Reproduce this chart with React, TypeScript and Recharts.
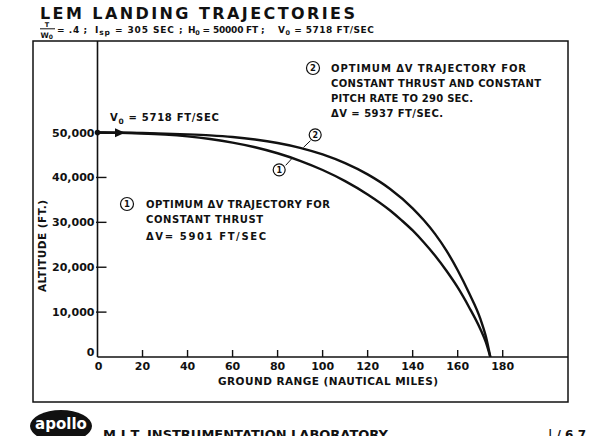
import React from 'react';
import { LineChart, Line, XAxis, YAxis, ReferenceDot, ReferenceLine } from 'recharts';

// Ground range (nautical miles) and altitude (ft) for trajectory 1 (constant thrust)
const rangeCurve1 = [0, 10, 20, 30, 40, 50, 60, 70, 80, 90, 100, 110, 120, 130, 135, 140, 145, 150, 155, 160, 165, 170, 172.5, 174.5];
const altCurve1 = [50000, 49950, 49800, 49540, 49140, 48560, 47770, 46730, 45390, 43715, 41665, 39190, 36215, 32640, 30500, 28190, 25500, 22540, 19200, 15490, 11150, 6300, 3300, 0];

// Trajectory 2 (constant thrust and constant pitch rate to 290 sec)
const rangeCurve2 = [0, 10, 20, 30, 40, 50, 60, 70, 80, 90, 100, 110, 120, 130, 140, 145, 150, 155, 160, 165, 170, 172.5, 174.5];
const altCurve2 = [50000, 49975, 49900, 49775, 49600, 49365, 49005, 48455, 47680, 46605, 45130, 43180, 40680, 37430, 33130, 30450, 27380, 23700, 19330, 14300, 8600, 4600, 0];

const xTicks = [0, 20, 40, 60, 80, 100, 120, 140, 160, 180];
const yTicks = [0, 10000, 20000, 30000, 40000, 50000];
const yTickLabels = ['0', '10,000', '20,000', '30,000', '40,000', '50,000'];

const curve1 = rangeCurve1.map((x, i) => ({ x, alt: altCurve1[i] }));
const curve2 = rangeCurve2.map((x, i) => ({ x, alt: altCurve2[i] }));

const FONT = '"DejaVu Sans", sans-serif';
const INK = '#111';

const YTick = (props: any) => {
  const { x, y, payload } = props;
  const idx = yTicks.indexOf(payload.value);
  const label = idx >= 0 ? yTickLabels[idx] : String(payload.value);
  if (payload.value === 0) {
    return (
      <text x={x - 3} y={y - 1} textAnchor="end" fontFamily={FONT} fontSize={11} fontWeight="bold" fill={INK}>
        {label}
      </text>
    );
  }
  return (
    <g>
      <line x1={x - 1.5} x2={x + 9} y1={y} y2={y} stroke={INK} strokeWidth={1.4} />
      <text x={x - 3} y={y + 4} textAnchor="end" fontFamily={FONT} fontSize={11} fontWeight="bold" fill={INK}>
        {label}
      </text>
    </g>
  );
};

const XTick = (props: any) => {
  const { x, y, payload } = props;
  return (
    <g>
      {payload.value !== 0 && <line x1={x} x2={x} y1={y} y2={y - 7} stroke={INK} strokeWidth={1.4} />}
      <text x={payload.value === 0 ? x + 1 : x} y={y + 13} textAnchor="middle" fontFamily={FONT} fontSize={11} fontWeight="bold" fill={INK}>
        {payload.value}
      </text>
    </g>
  );
};

const Arrow = (props: any) => {
  const { cx, cy } = props;
  if (cx == null || cy == null) return null;
  return <polygon points={`${cx + 5},${cy} ${cx - 5},${cy - 4.5} ${cx - 5},${cy + 4.5}`} fill={INK} />;
};

const StartDot = (props: any) => {
  const { cx, cy } = props;
  if (cx == null || cy == null) return null;
  return <circle cx={cx} cy={cy} r={2.8} fill={INK} />;
};

const circled = (n: string) => (props: any) => {
  const { cx, cy } = props;
  if (cx == null || cy == null) return null;
  return (
    <g>
      <circle cx={cx} cy={cy} r={6} fill="#fff" stroke={INK} strokeWidth={1.2} />
      <text x={cx} y={cy + 3} textAnchor="middle" fontFamily={FONT} fontSize={8} fontWeight="bold" fill={INK}>
        {n}
      </text>
    </g>
  );
};

const txt = { fontFamily: FONT, fontWeight: 'bold' as const, fill: INK };

export default function App() {
  return (
    <div style={{ position: 'absolute', left: 0, top: 0, width: 600, height: 436, background: '#fff', overflow: 'hidden' }}>
      <div style={{ position: 'absolute', left: 0, top: 0 }}>
        <LineChart width={600} height={436} margin={{ top: 41, right: 32, bottom: 49, left: 37.5 }}>
          <XAxis
            type="number"
            dataKey="x"
            domain={[0, 209]}
            ticks={xTicks}
            allowDataOverflow
            height={30}
            tickLine={false}
            tickSize={0}
            tickMargin={0}
            tick={<XTick />}
            axisLine={{ stroke: INK, strokeWidth: 1.6 }}
            interval={0}
          />
          <YAxis
            type="number"
            domain={[0, 70400]}
            ticks={yTicks}
            allowDataOverflow
            width={60}
            tickLine={false}
            tickSize={0}
            tickMargin={0}
            tick={<YTick />}
            axisLine={{ stroke: INK, strokeWidth: 1.6 }}
            interval={0}
          />
          <Line data={curve1} dataKey="alt" type="monotone" stroke={INK} strokeWidth={2.4} dot={false} isAnimationActive={false} />
          <Line data={curve2} dataKey="alt" type="monotone" stroke={INK} strokeWidth={2.4} dot={false} isAnimationActive={false} />
          <ReferenceDot x={0} y={50000} r={3} shape={<StartDot />} ifOverflow="visible" />
          <ReferenceDot x={10} y={49970} r={5} shape={<Arrow />} ifOverflow="visible" />
          <ReferenceLine segment={[{ x: 94.6, y: 48200 }, { x: 91.5, y: 46700 }]} stroke={INK} strokeWidth={1} ifOverflow="visible" />
          <ReferenceLine segment={[{ x: 83.6, y: 42700 }, { x: 86.5, y: 44300 }]} stroke={INK} strokeWidth={1} ifOverflow="visible" />
          <ReferenceDot x={96.7} y={49490} r={6} shape={circled('2')} ifOverflow="visible" />
          <ReferenceDot x={80.7} y={41690} r={6} shape={circled('1')} ifOverflow="visible" />
        </LineChart>
      </div>
      <svg width={600} height={436} style={{ position: 'absolute', left: 0, top: 0, pointerEvents: 'none' }}>
        {/* outer frame */}
        <rect x={33} y={41} width={535} height={361} fill="none" stroke={INK} strokeWidth={1.5} />

        {/* title */}
        <text x={40} y={19} fontSize={16} textLength={315} lengthAdjust="spacing" {...txt}>
          LEM LANDING TRAJECTORIES
        </text>

        {/* subtitle */}
        <text x={47} y={27} fontSize={6.5} textAnchor="middle" {...txt}>T</text>
        <line x1={40} x2={55} y1={28.8} y2={28.8} stroke={INK} strokeWidth={1} />
        <text x={40.5} y={37.5} fontSize={7.5} {...txt}>W<tspan fontSize={6} dy={1.5}>0</tspan></text>
        <text x={57} y={33} fontSize={9} letterSpacing={0.6} {...txt}>= .4 ;</text>
        <text x={95} y={33} fontSize={9} letterSpacing={0.9} {...txt}>
          I<tspan fontSize={7.5} dy={2}>sp</tspan><tspan dy={-2}> = 305 SEC ;</tspan>
        </text>
        <text x={188} y={33} fontSize={9} letterSpacing={-0.2} {...txt}>
          H<tspan fontSize={6.5} dy={2}>0</tspan><tspan dy={-2}> = 50000 FT ;</tspan>
        </text>
        <text x={278} y={33} fontSize={9} letterSpacing={0.5} {...txt}>
          V<tspan fontSize={6.5} dy={2}>0</tspan><tspan dy={-2}> = 5718 FT/SEC</tspan>
        </text>

        {/* V0 label near start */}
        <text x={110} y={121} fontSize={10} letterSpacing={0.7} {...txt}>
          V<tspan fontSize={7.5} dy={2.5}>0</tspan><tspan dy={-2.5}> = 5718 FT/SEC</tspan>
        </text>

        {/* annotation 2 */}
        <circle cx={313} cy={68} r={6.5} fill="none" stroke={INK} strokeWidth={1.2} />
        <text x={313} y={71} fontSize={8.5} textAnchor="middle" {...txt}>2</text>
        <text x={331} y={72} fontSize={10} textLength={195} lengthAdjust="spacing" {...txt}>OPTIMUM ΔV TRAJECTORY FOR</text>
        <text x={331} y={87} fontSize={10} textLength={210} lengthAdjust="spacing" {...txt}>CONSTANT THRUST AND CONSTANT</text>
        <text x={331} y={102} fontSize={10} textLength={142} lengthAdjust="spacing" {...txt}>PITCH RATE  TO 290 SEC.</text>
        <text x={331} y={117} fontSize={10} textLength={112} lengthAdjust="spacing" {...txt}>ΔV = 5937 FT/SEC.</text>

        {/* annotation 1 */}
        <circle cx={127} cy={204} r={6.5} fill="none" stroke={INK} strokeWidth={1.2} />
        <text x={127} y={207} fontSize={8.5} textAnchor="middle" {...txt}>1</text>
        <text x={146} y={207.5} fontSize={10} textLength={184} lengthAdjust="spacing" {...txt}>OPTIMUM ΔV TRAJECTORY FOR</text>
        <text x={146} y={222.5} fontSize={10} textLength={117} lengthAdjust="spacing" {...txt}>CONSTANT THRUST</text>
        <text x={146} y={239.5} fontSize={10} textLength={120} lengthAdjust="spacing" {...txt}>ΔV= 5901 FT/SEC</text>

        {/* axis titles */}
        <text x={328} y={385} fontSize={10.5} textAnchor="middle" textLength={220} lengthAdjust="spacing" {...txt}>
          GROUND RANGE (NAUTICAL MILES)
        </text>
        <text x={0} y={0} fontSize={10.5} textAnchor="middle" textLength={92} lengthAdjust="spacing" transform="translate(46 246) rotate(-90)" {...txt}>
          ALTITUDE (FT.)
        </text>

        {/* footer */}
        <ellipse cx={61} cy={426} rx={31} ry={16} fill={INK} />
        <text x={61} y={429} fontSize={15} textAnchor="middle" fontFamily={FONT} fontWeight="bold" fill="#fff">apollo</text>
        <text x={103} y={439} fontSize={13} textLength={285} lengthAdjust="spacing" {...txt}>M.I.T. INSTRUMENTATION LABORATORY</text>
        <text x={548} y={439} fontSize={12} {...txt}>| / 6 7</text>
      </svg>
    </div>
  );
}
